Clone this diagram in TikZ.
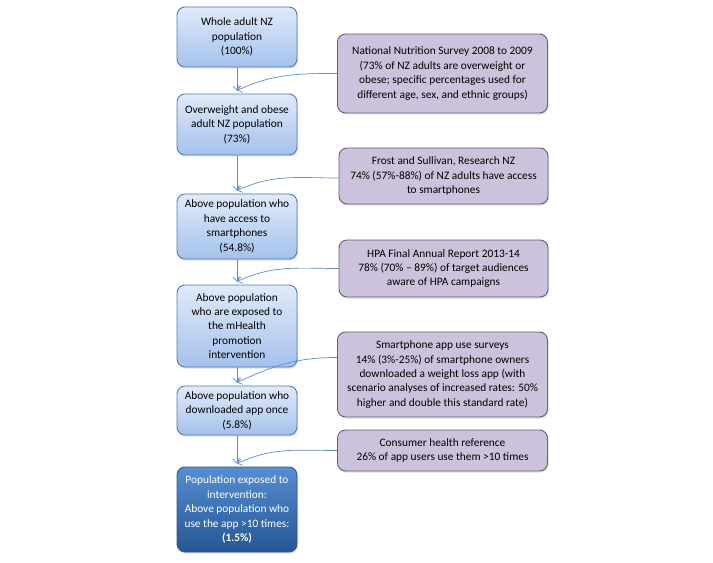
\documentclass[tikz,border=0pt]{standalone}
\usepackage{fontspec}
\setmainfont{Carlito}
\usetikzlibrary{arrows.meta,shadows}

\definecolor{popline}{RGB}{88,122,176}
\definecolor{poptop}{RGB}{224,234,249}
\definecolor{popbot}{RGB}{164,194,236}
\definecolor{srcfill}{RGB}{205,194,219}
\definecolor{srcline}{RGB}{96,96,122}
\definecolor{endtop}{RGB}{86,142,210}
\definecolor{endbot}{RGB}{38,86,148}
\definecolor{endline}{RGB}{52,88,140}
\definecolor{flowcol}{RGB}{92,140,196}

\tikzset{
  popbox/.style={draw=popline, line width=0.9bp, rounded corners=8bp,
    top color=poptop, bottom color=popbot, align=center,
    minimum width=120bp, inner sep=2bp,
    drop shadow={shadow xshift=1bp, shadow yshift=-1.5bp, opacity=0.25}},
  endbox/.style={popbox, draw=endline, top color=endtop, bottom color=endbot,
    text=white},
  srcbox/.style={draw=srcline, line width=0.9bp, rounded corners=8bp,
    fill=srcfill, align=center, minimum width=210bp, inner sep=2bp,
    drop shadow={shadow xshift=1bp, shadow yshift=-1.5bp, opacity=0.25}},
  flow/.style={->, draw=flowcol, line width=0.7bp},
}

\begin{document}
\begin{tikzpicture}[x=1bp,y=-1bp,>={Straight Barb[length=4bp,width=8bp]},
  font=\fontsize{11.4}{14.5}\selectfont]
\useasboundingbox (0,0) rectangle (713,563);

% population steps
\node [popbox, minimum height=60bp] (b1) at (237,37) {Whole adult NZ\\population\\(100\%)};
\node [popbox, minimum height=61bp] (b2) at (237,124.5) {Overweight and obese\\adult NZ population\\(73\%)};
\node [popbox, minimum height=65bp] (b3) at (237,226.5) {Above population who\\have access to\\smartphones\\(54.8\%)};
\node [popbox, minimum height=82bp] (b4) at (237,326) {Above population\\who are exposed to\\the mHealth\\promotion\\intervention};
\node [popbox, minimum height=49bp] (b5) at (237,410.5) {Above population who\\downloaded app once\\(5.8\%)};
\node [endbox, minimum height=85bp] (b6) at (237,509.5) {Population exposed to\\intervention:\\Above population who\\use the app >10 times:\\\textbf{(1.5\%)}};

% data sources
\node [srcbox, minimum height=79bp] (r1) at (442.5,73.5) {National Nutrition Survey 2008 to 2009\\(73\% of NZ adults are overweight or\\obese; specific percentages used for\\different age, sex, and ethnic groups)};
\node [srcbox, minimum height=56bp, minimum width=209bp] (r2) at (443.5,176) {Frost and Sullivan, Research NZ\\74\% (57\%-88\%) of NZ adults have access\\to smartphones};
\node [srcbox, minimum height=57bp, minimum width=209bp] (r3) at (443.5,268.5) {HPA Final Annual Report 2013-14\\78\% (70\% -- 89\%) of target audiences\\aware of HPA campaigns};
\node [srcbox, minimum height=85bp] (r4) at (442.5,374.5) {Smartphone app use surveys\\14\% (3\%-25\%) of smartphone owners\\downloaded a weight loss app (with\\scenario analyses of increased rates: 50\%\\higher and double this standard rate)};
\node [srcbox, minimum height=41bp] (r5) at (442.5,450.5) {Consumer health reference\\26\% of app users use them >10 times};

% arrow tips
\coordinate (t2) at ([yshift=3bp]b2.north);
\coordinate (t3) at ([yshift=3bp]b3.north);
\coordinate (t4) at ([yshift=3bp]b4.north);
\coordinate (t5) at ([yshift=3bp]b5.north);
\coordinate (t6) at ([yshift=3bp]b6.north);

\draw [flow] (b1.south) -- (t2);
\draw [flow] (b2.south) -- (t3);
\draw [flow] (b3.south) -- (t4);
\draw [flow] (b4.south) -- (t5);
\draw [flow] (b5.south) -- (t6);
\draw [flow] (r1.west) to[out=180,in=25] (t2);
\draw [flow] ([yshift=-2bp]r2.west) to[out=180,in=25] (t3);
\draw [flow] (r3.west) to[out=180,in=25] (t4);
\draw [flow] ([yshift=17bp]r4.west) to[out=180,in=25] (t5);
\draw [flow] (r5.west) to[out=180,in=25] (t6);
\end{tikzpicture}
\end{document}
